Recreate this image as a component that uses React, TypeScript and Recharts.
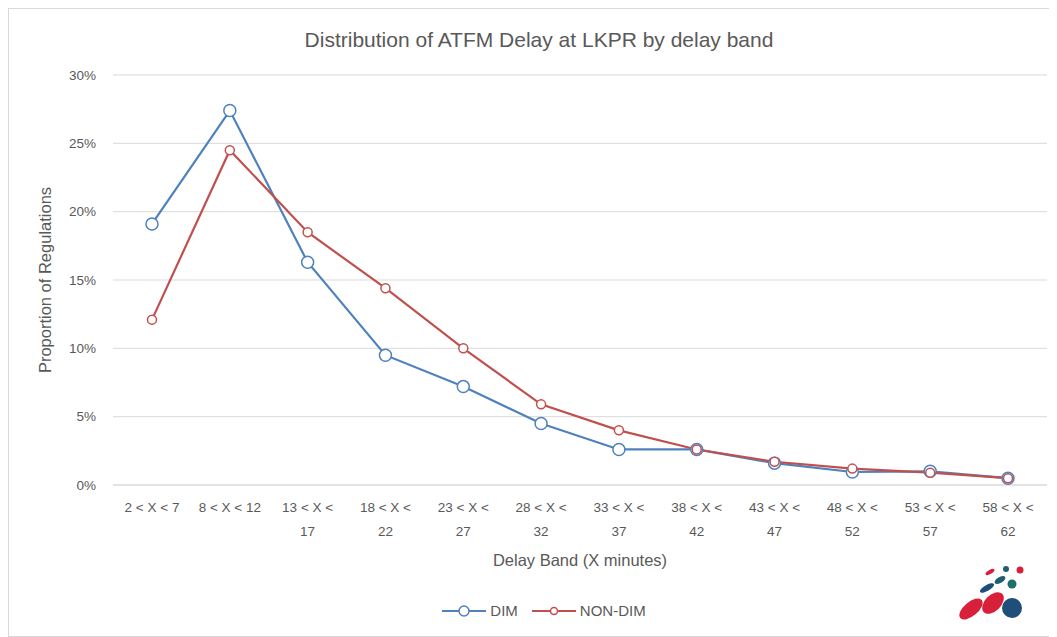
import { LineChart, Line, XAxis, YAxis, CartesianGrid } from 'recharts'

const bands = [
  '2 < X < 7', '8 < X < 12', '13 < X < 17', '18 < X < 22', '23 < X < 27', '28 < X < 32',
  '33 < X < 37', '38 < X < 42', '43 < X < 47', '48 < X < 52', '53 < X < 57', '58 < X < 62',
]
const dim = [19.1, 27.4, 16.3, 9.5, 7.2, 4.5, 2.6, 2.6, 1.6, 0.95, 1.0, 0.5]
const nonDim = [12.1, 24.5, 18.5, 14.4, 10.0, 5.9, 4.0, 2.6, 1.7, 1.2, 0.9, 0.5]
const yTicks = [0, 5, 10, 15, 20, 25, 30]

const data = bands.map((band, i) => ({ band, dim: dim[i], nonDim: nonDim[i] }))

const FONT = '"Liberation Sans", Arial, sans-serif'
const GREY = '#595959'
const BLUE = '#4f81bd'
const RED = '#c0504d'

function BandTick({ x, y, payload }: any) {
  const label: string = payload.value
  // long labels wrap onto a second line like Excel does
  let lines = [label]
  if (label.length > 10) {
    const cut = label.lastIndexOf(' ')
    lines = [label.slice(0, cut), label.slice(cut + 1)]
  }
  return (
    <text x={x} y={y + 19} textAnchor="middle" fontSize={13.5} fill={GREY} fontFamily={FONT}>
      {lines.map((l, i) => (
        <tspan key={i} x={x} dy={i === 0 ? 0 : 24}>{l}</tspan>
      ))}
    </text>
  )
}

function ChartLegend() {
  const items = [
    { name: 'DIM', color: BLUE, r: 5 },
    { name: 'NON-DIM', color: RED, r: 3.5 },
  ]
  return (
    <div style={{ position: 'absolute', left: 0, width: 1072, top: 594, display: 'flex', justifyContent: 'center', gap: 14, fontFamily: FONT, fontSize: 15, color: GREY }}>
      {items.map(it => (
        <div key={it.name} style={{ display: 'flex', alignItems: 'center', gap: 4 }}>
          <svg width={44} height={14}>
            <line x1={0} y1={7} x2={44} y2={7} stroke={it.color} strokeWidth={2} />
            <circle cx={22} cy={7} r={it.r} fill="#fff" stroke={it.color} strokeWidth={1.5} />
          </svg>
          <span>{it.name}</span>
        </div>
      ))}
    </div>
  )
}

function Logo() {
  return (
    <svg width={80} height={64} style={{ position: 'absolute', left: 946, top: 555 }}>
      <ellipse cx={17} cy={46} rx={14} ry={7} transform="rotate(-40 17 46)" fill="#d8203a" />
      <ellipse cx={39} cy={40} rx={13} ry={8} transform="rotate(-45 39 40)" fill="#d8203a" />
      <circle cx={58} cy={45} r={10} fill="#1d4f7a" />
      <ellipse cx={46} cy={17} rx={6} ry={3} transform="rotate(-30 46 17)" fill="#1d5f6f" />
      <ellipse cx={33} cy={25} rx={8} ry={3} transform="rotate(-30 33 25)" fill="#1d4f7a" />
      <circle cx={58} cy={21} r={4.5} fill="#1d6f6a" />
      <circle cx={52} cy={6} r={3} fill="#1d5f6f" />
      <ellipse cx={36} cy={9} rx={5} ry={2} transform="rotate(-30 36 9)" fill="#d8203a" />
      <circle cx={66} cy={7} r={3.5} fill="#d8203a" />
    </svg>
  )
}

export default function App() {
  return (
    <div style={{ position: 'relative', width: 1049, height: 629, background: '#fff' }}>
      <div style={{ position: 'absolute', left: 0, top: 0, width: 1049, height: 629, border: '1px solid #d9d9d9', boxSizing: 'border-box', pointerEvents: 'none' }} />
      <div style={{ position: 'absolute', left: 531, transform: 'translateX(-50%)', top: 20, fontFamily: FONT, fontSize: 21, color: GREY, whiteSpace: 'nowrap' }}>
        Distribution of ATFM Delay at LKPR by delay band
      </div>
      <div style={{ position: 'absolute', left: 572, transform: 'translateX(-50%)', top: 543, fontFamily: FONT, fontSize: 16.5, color: GREY, whiteSpace: 'nowrap' }}>
        Delay Band (X minutes)
      </div>
      <div style={{ position: 'absolute', left: 37, top: 272, transform: 'translate(-50%, -50%) rotate(-90deg)', fontFamily: FONT, fontSize: 16.5, color: GREY, whiteSpace: 'nowrap' }}>
        Proportion of Regulations
      </div>
      <LineChart
        width={1049}
        height={629}
        data={data}
        margin={{ top: 67, right: 10, left: 0, bottom: 92 }}
        style={{ fontFamily: FONT }}
      >
        <CartesianGrid vertical={false} stroke="#d9d9d9" />
        <XAxis
          dataKey="band"
          interval={0}
          tickLine={false}
          axisLine={{ stroke: '#d9d9d9' }}
          tick={<BandTick />}
          padding={{ left: 39, right: 39 }}
          height={60}
        />
        <YAxis
          width={105}
          domain={[0, 30]}
          ticks={yTicks}
          tickFormatter={(v: number) => `${v}%`}
          tickLine={false}
          axisLine={false}
          tickMargin={11}
          tick={{ fontSize: 13.5, fill: GREY }}
        />
        <Line
          dataKey="dim"
          name="DIM"
          stroke={BLUE}
          strokeWidth={2.2}
          dot={{ r: 6, fill: '#fff', stroke: BLUE, strokeWidth: 1.5 }}
          isAnimationActive={false}
        />
        <Line
          dataKey="nonDim"
          name="NON-DIM"
          stroke={RED}
          strokeWidth={2.2}
          dot={{ r: 4.5, fill: '#fff', stroke: RED, strokeWidth: 1.5 }}
          isAnimationActive={false}
        />
      </LineChart>
      <ChartLegend />
      <Logo />
    </div>
  )
}
